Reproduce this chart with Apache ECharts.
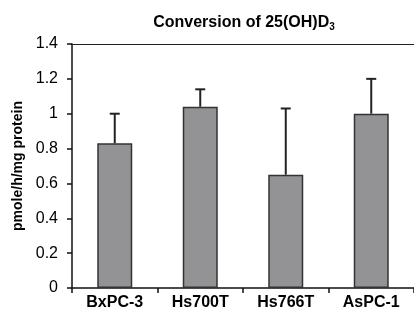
<!DOCTYPE html>
<html>
<head>
<meta charset="utf-8">
<script src="https://cdn.jsdelivr.net/npm/echarts@6/dist/echarts.min.js"></script>
<style>
  html, body { margin: 0; padding: 0; background: #fff; }
  #main { width: 414px; height: 320px; }
</style>
</head>
<body>
<div id="main"></div>
<script>
var cellLines = ['BxPC-3', 'Hs700T', 'Hs766T', 'AsPC-1'];
var conversion = [0.83, 1.04, 0.65, 1.0];
var errUpper = [1.0, 1.14, 1.03, 1.2];

var myChart = echarts.init(document.getElementById('main'));

var errData = cellLines.map(function (c, i) {
  return [i, conversion[i], errUpper[i]];
});

myChart.setOption({
  animation: false,
  title: {
    text: 'Conversion of 25(OH)D{sub|3}',
    left: 239,
    textAlign: 'center',
    top: 9,
    textStyle: {
      fontFamily: 'Liberation Sans',
      fontSize: 16,
      fontWeight: 'bold',
      color: '#000',
      rich: {
        sub: { fontSize: 10, fontWeight: 'bold', fontFamily: 'Liberation Sans', color: '#000', verticalAlign: 'bottom', padding: [8, 0, 0, 0] }
      }
    }
  },
  grid: { left: 72, top: 44, width: 344, height: 244, containLabel: false },
  xAxis: [{
    type: 'category',
    data: cellLines,
    axisLine: { lineStyle: { color: '#111', width: 1.5 } },
    axisTick: { show: true, length: 5, lineStyle: { color: '#111', width: 1.5 } },
    axisLabel: { margin: 7, color: '#000', fontFamily: 'Liberation Sans', fontSize: 16, fontWeight: 'bold' }
  }, {
    type: 'category',
    position: 'top',
    data: cellLines,
    axisLine: { show: true, lineStyle: { color: '#222', width: 1.2 } },
    axisTick: { show: false },
    axisLabel: { show: false }
  }],
  yAxis: {
    type: 'value',
    min: 0,
    max: 1.4,
    interval: 0.2,
    name: 'pmole/h/mg protein',
    nameLocation: 'middle',
    nameGap: 44,
    nameTextStyle: { fontFamily: 'Liberation Sans', fontSize: 14, fontWeight: 'bold', color: '#000' },
    axisLine: { show: true, lineStyle: { color: '#111', width: 1.5 } },
    axisTick: { show: true, length: 5, lineStyle: { color: '#111', width: 1.5 } },
    axisLabel: { margin: 14, color: '#000', fontFamily: 'Liberation Sans', fontSize: 16 },
    splitLine: { show: false }
  },
  series: [{
    type: 'bar',
    data: conversion,
    barWidth: 35,
    itemStyle: { color: '#939395', borderColor: '#333', borderWidth: 1.5 }
  }, {
    type: 'custom',
    data: errData,
    z: 3,
    renderItem: function (params, api) {
      var x = api.value(0);
      var lo = api.coord([x, api.value(1)]);
      var hi = api.coord([x, api.value(2)]);
      var style = { stroke: '#222', lineWidth: 2 };
      return {
        type: 'group',
        children: [
          { type: 'line', shape: { x1: lo[0], y1: lo[1], x2: hi[0], y2: hi[1] }, style: style },
          { type: 'line', shape: { x1: hi[0] - 5, y1: hi[1], x2: hi[0] + 5, y2: hi[1] }, style: style }
        ]
      };
    }
  }]
});
</script>
</body>
</html>
